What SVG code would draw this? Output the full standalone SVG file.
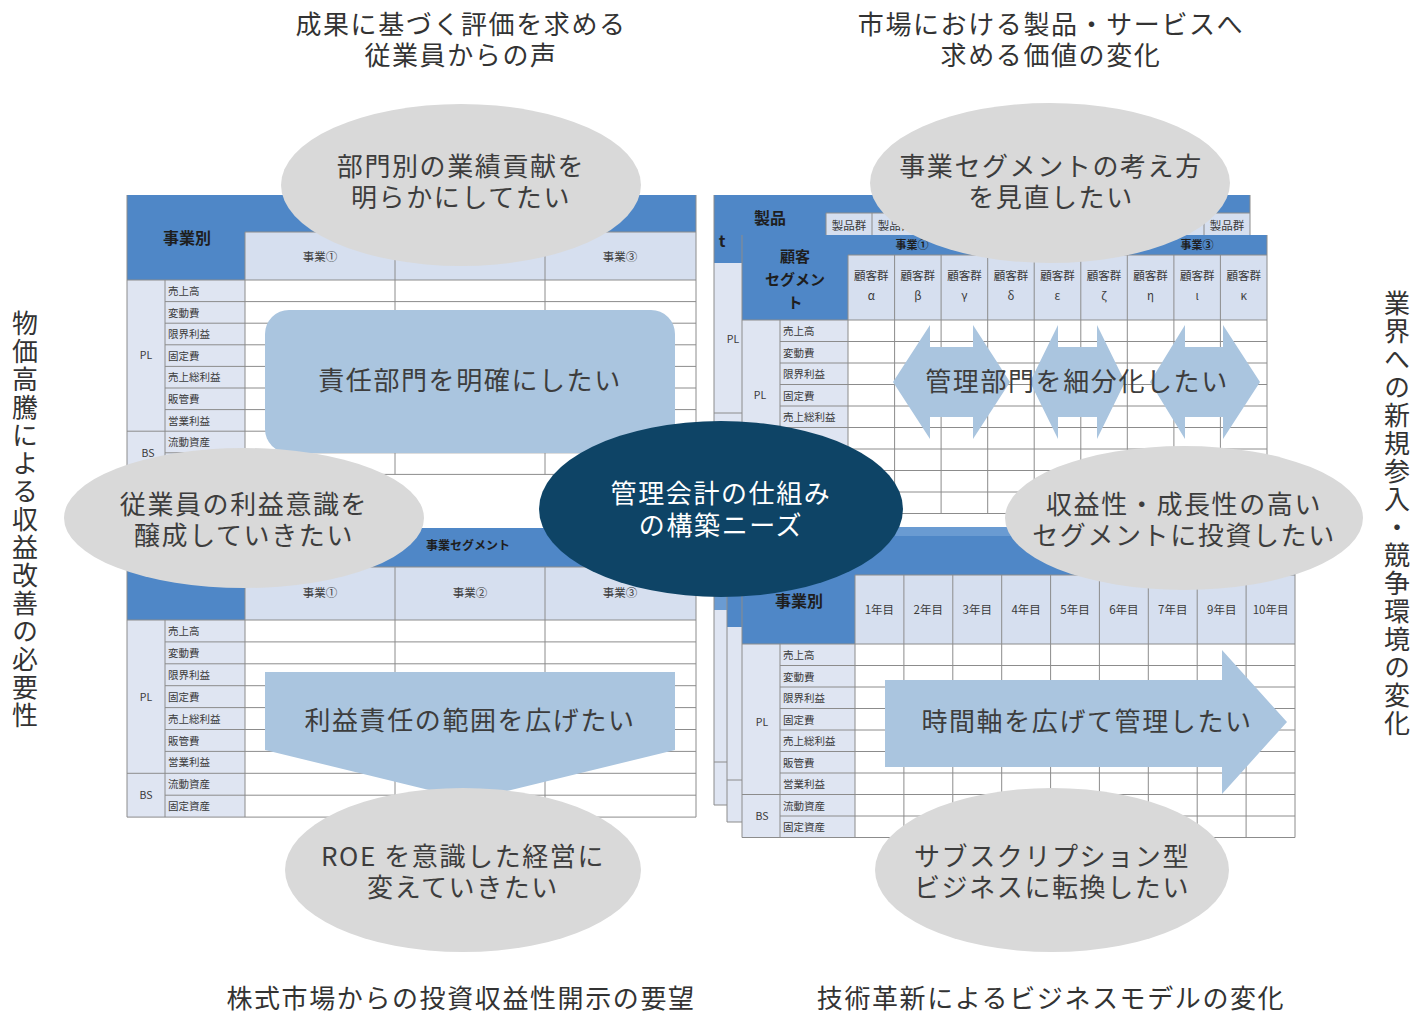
<svg xmlns="http://www.w3.org/2000/svg" width="1415" height="1016" viewBox="0 0 1415 1016">
<style>
text{font-family:"Noto Sans CJK JP","Noto Sans",sans-serif}
.hd{fill:#4f87c7}
.hd2{fill:#6a9bd2}
.sh{fill:#d6dfef}
.lb{fill:#dfe5f2}
.wt{fill:#fff}
.ln{stroke:#8c8c8c;stroke-width:1;fill:none}
.it{font-size:10.5px;fill:#3a3a3a}
.ch{font-size:11.5px;fill:#3a3a3a;text-anchor:middle}
.bh{font-weight:bold;fill:#1e1e1e;text-anchor:middle}
.gy{fill:#d9d9d9}
.lbs{fill:#aac5df}
.big{font-size:26px;fill:#3d3d3d;text-anchor:middle;letter-spacing:1.6px}
.cap{font-size:26px;fill:#333;text-anchor:middle;letter-spacing:1.6px}
.wtx{font-size:26px;fill:#fff;text-anchor:middle;letter-spacing:1.6px}
.vt{font-size:26px;fill:#333;writing-mode:vertical-rl;letter-spacing:2px}
</style>
<rect width="1415" height="1016" fill="#fff"/>

<!-- captions -->
<g id="captions">
<text class="cap" x="461" y="34">成果に基づく評価を求める</text>
<text class="cap" x="461" y="65">従業員からの声</text>
<text class="cap" x="1051" y="34">市場における製品・サービスへ</text>
<text class="cap" x="1051" y="65">求める価値の変化</text>
<text class="cap" x="461" y="1008">株式市場からの投資収益性開示の要望</text>
<text class="cap" x="1051" y="1008">技術革新によるビジネスモデルの変化</text>
<text class="vt" x="25" y="310">物価高騰による収益改善の必要性</text>
<text class="vt" x="1397" y="290">業界への新規参入・競争環境の変化</text>
</g>

<!-- table 1: top-left -->
<g id="table-business-top">
<rect x="127" y="195" width="569" height="279.4" class="wt"/>
<rect x="127" y="195" width="569" height="37" class="hd"/>
<rect x="127" y="195" width="118" height="85" class="hd"/>
<rect x="245" y="232" width="451" height="48" class="sh"/>
<rect x="127" y="280" width="118" height="194.4" class="lb"/>
<path class="ln" d="M127 195V474.4M696 195V474.4M245 232V474.4M395 232V474.4M545 232V474.4M165 280V474.4M245 232H696M127 280H696M165 301.6H696M165 323.2H696M165 344.8H696M165 366.4H696M165 388H696M165 409.6H696M127 431.2H696M165 452.8H696M127 474.4H696"/>
<text class="bh" x="187" y="244" font-size="16">事業別</text>
<text class="ch" x="320" y="261">事業①</text>
<text class="ch" x="620" y="261">事業③</text>
<text class="it" x="146" y="359" font-size="10" text-anchor="middle">PL</text>
<text class="it" x="148" y="457" font-size="10" text-anchor="middle">BS</text>
<text class="it" x="168" y="295">売上高</text>
<text class="it" x="168" y="316.6">変動費</text>
<text class="it" x="168" y="338.2">限界利益</text>
<text class="it" x="168" y="359.8">固定費</text>
<text class="it" x="168" y="381.4">売上総利益</text>
<text class="it" x="168" y="403">販管費</text>
<text class="it" x="168" y="424.6">営業利益</text>
<text class="it" x="168" y="446.2">流動資産</text>
</g>

<!-- table 2: bottom-left -->
<g id="table-business-bottom">
<rect x="127" y="528" width="569" height="289.1" class="wt"/>
<rect x="127" y="528" width="569" height="39" class="hd"/>
<rect x="127" y="528" width="118" height="92" class="hd"/>
<rect x="245" y="567" width="451" height="53" class="sh"/>
<rect x="127" y="620" width="118" height="197.1" class="lb"/>
<path class="ln" d="M127 528V817.1M696 528V817.1M245 567V817.1M395 567V817.1M545 567V817.1M165 620V817.1M245 567H696M127 620H696M165 641.9H696M165 663.8H696M165 685.7H696M165 707.6H696M165 729.5H696M165 751.4H696M127 773.3H696M165 795.2H696M127 817.1H696"/>
<text class="bh" x="468" y="550" font-size="12">事業セグメント</text>
<text class="ch" x="320" y="597">事業①</text>
<text class="ch" x="470" y="597">事業②</text>
<text class="ch" x="620" y="597">事業③</text>
<text class="it" x="146" y="701" font-size="10" text-anchor="middle">PL</text>
<text class="it" x="146" y="799" font-size="10" text-anchor="middle">BS</text>
<text class="it" x="168" y="635">売上高</text>
<text class="it" x="168" y="656.9">変動費</text>
<text class="it" x="168" y="678.8">限界利益</text>
<text class="it" x="168" y="700.7">固定費</text>
<text class="it" x="168" y="722.6">売上総利益</text>
<text class="it" x="168" y="744.5">販管費</text>
<text class="it" x="168" y="766.4">営業利益</text>
<text class="it" x="168" y="788.3">流動資産</text>
<text class="it" x="168" y="810.2">固定資産</text>
</g>

<!-- table 3 back: product -->
<g id="table-product">
<rect x="714" y="195" width="536" height="275" class="wt"/>
<rect x="714" y="195" width="536" height="18" class="hd"/>
<rect x="714" y="195" width="112" height="68" class="hd"/>
<rect x="826" y="213" width="424" height="22" class="sh"/>
<rect x="714" y="263" width="28" height="207" class="lb"/>
<path class="ln" d="M714 195V470M1250 195V470M826 213V235M872 213V235M919 213V235M1204 213V235M826 213H1250M714 413H742M714 470H742"/>
<text class="bh" x="770" y="224" font-size="16">製品</text>
<text class="bh" x="722" y="247" font-size="16">t</text>
<text class="ch" x="849" y="230">製品群</text>
<text class="ch" x="895" y="230">製品群</text>
<text class="ch" x="1227" y="230">製品群</text>
<text class="it" x="733" y="343" font-size="10" text-anchor="middle">PL</text>
</g>

<!-- table 3 front: customer segment -->
<g id="table-customer">
<rect x="742" y="235" width="525" height="278.5" class="wt"/>
<rect x="742" y="235" width="525" height="20" class="hd"/>
<rect x="742" y="235" width="106" height="85" class="hd"/>
<rect x="848" y="255" width="419" height="65" class="sh"/>
<rect x="742" y="320" width="106" height="193.5" class="lb"/>
<path class="ln" d="M742 235V513.5M1267 235V513.5M780 320V513.5M848 255V513.5M894.6 255V513.5M941.1 255V513.5M987.7 255V513.5M1034.2 255V513.5M1080.8 255V513.5M1127.3 255V513.5M1173.9 255V513.5M1220.4 255V513.5M848 255H1267M742 320H1267M780 341.5H1267M780 363H1267M780 384.5H1267M780 406H1267M780 427.5H1267M780 449H1267M742 470.5H1267M780 492H1267M742 513.5H1267"/>
<text class="bh" x="912" y="249" font-size="11">事業①</text>
<text class="bh" x="1197" y="249" font-size="11">事業③</text>
<text class="bh" x="795" y="262" font-size="15">顧客</text>
<text class="bh" x="795" y="285" font-size="15">セグメン</text>
<text class="bh" x="795" y="308" font-size="15">ト</text>
<text class="ch" x="871.3" y="280">顧客群</text><text class="ch" x="871.3" y="300">α</text>
<text class="ch" x="917.8" y="280">顧客群</text><text class="ch" x="917.8" y="300">β</text>
<text class="ch" x="964.4" y="280">顧客群</text><text class="ch" x="964.4" y="300">γ</text>
<text class="ch" x="1011" y="280">顧客群</text><text class="ch" x="1011" y="300">δ</text>
<text class="ch" x="1057.5" y="280">顧客群</text><text class="ch" x="1057.5" y="300">ε</text>
<text class="ch" x="1104" y="280">顧客群</text><text class="ch" x="1104" y="300">ζ</text>
<text class="ch" x="1150.6" y="280">顧客群</text><text class="ch" x="1150.6" y="300">η</text>
<text class="ch" x="1197.2" y="280">顧客群</text><text class="ch" x="1197.2" y="300">ι</text>
<text class="ch" x="1243.7" y="280">顧客群</text><text class="ch" x="1243.7" y="300">κ</text>
<text class="it" x="760" y="399" font-size="10" text-anchor="middle">PL</text>
<text class="it" x="783" y="335">売上高</text>
<text class="it" x="783" y="356.5">変動費</text>
<text class="it" x="783" y="378">限界利益</text>
<text class="it" x="783" y="399.5">固定費</text>
<text class="it" x="783" y="421">売上総利益</text>
</g>

<!-- table 4: yearly stack -->
<g id="table-yearly">
<rect x="714" y="527" width="540" height="278" class="wt"/>
<rect x="714" y="527" width="540" height="83" class="hd2"/>
<rect x="714" y="610" width="13" height="195" class="lb"/>
<path class="ln" d="M714 527V805H1254M714 762H727"/>
<rect x="727" y="536" width="550" height="286" class="wt"/>
<rect x="727" y="536" width="550" height="91" class="hd"/>
<rect x="727" y="627" width="15" height="195" class="lb"/>
<path class="ln" d="M727 536V822H1277M727 780H742"/>
<rect x="742" y="545" width="553" height="292.5" class="wt"/>
<rect x="742" y="545" width="553" height="30" class="hd"/>
<rect x="742" y="545" width="113" height="99" class="hd"/>
<rect x="855" y="575" width="440" height="69" class="sh"/>
<rect x="742" y="644" width="113" height="193.5" class="lb"/>
<path class="ln" d="M742 545V837.5M1295 545V837.5M780 644V837.5M855 575V837.5M903.9 575V837.5M952.8 575V837.5M1001.7 575V837.5M1050.6 575V837.5M1099.4 575V837.5M1148.3 575V837.5M1197.2 575V837.5M1246.1 575V837.5M855 575H1295M742 644H1295M780 665.5H1295M780 687H1295M780 708.5H1295M780 730H1295M780 751.5H1295M780 773H1295M742 794.5H1295M780 816H1295M742 837.5H1295"/>
<text class="bh" x="799" y="607" font-size="16">事業別</text>
<text class="ch" x="879.4" y="614">1年目</text>
<text class="ch" x="928.3" y="614">2年目</text>
<text class="ch" x="977.2" y="614">3年目</text>
<text class="ch" x="1026.1" y="614">4年目</text>
<text class="ch" x="1075" y="614">5年目</text>
<text class="ch" x="1123.9" y="614">6年目</text>
<text class="ch" x="1172.8" y="614">7年目</text>
<text class="ch" x="1221.7" y="614">9年目</text>
<text class="ch" x="1270.6" y="614">10年目</text>
<text class="it" x="762" y="726" font-size="10" text-anchor="middle">PL</text>
<text class="it" x="762" y="820" font-size="10" text-anchor="middle">BS</text>
<text class="it" x="783" y="659">売上高</text>
<text class="it" x="783" y="680.5">変動費</text>
<text class="it" x="783" y="702">限界利益</text>
<text class="it" x="783" y="723.5">固定費</text>
<text class="it" x="783" y="745">売上総利益</text>
<text class="it" x="783" y="766.5">販管費</text>
<text class="it" x="783" y="788">営業利益</text>
<text class="it" x="783" y="809.5">流動資産</text>
<text class="it" x="783" y="831">固定資産</text>
</g>

<!-- light blue shapes -->
<g id="shape-responsibility">
<rect x="265" y="310" width="410" height="143" rx="24" class="lbs"/>
<text class="big" x="470" y="390">責任部門を明確にしたい</text>
</g>
<g id="shape-profit-scope">
<path class="lbs" d="M265 672H675V750L470 800L265 750Z"/>
<text class="big" x="470" y="730">利益責任の範囲を広げたい</text>
</g>
<g id="shape-subdivide">
<path class="lbs" d="M893 382L930 325V347H973V325L1010 382L973 439V417H930V439Z"/>
<path class="lbs" d="M1030 382L1058 325V347H1097V325L1125 382L1097 439V417H1058V439Z"/>
<path class="lbs" d="M1150 382L1185 325V347H1223V325L1260 382L1223 439V417H1185V439Z"/>
<text class="big" x="1077" y="391">管理部門を細分化したい</text>
</g>
<g id="shape-timeaxis">
<path class="lbs" d="M885 680H1222V650L1287 722L1222 794V767H885Z"/>
<text class="big" x="1087" y="731">時間軸を広げて管理したい</text>
</g>

<!-- gray ellipses -->
<g id="need-dept-contribution">
<ellipse cx="461" cy="185" rx="180" ry="81" class="gy"/>
<text class="big" x="461" y="176">部門別の業績貢献を</text>
<text class="big" x="461" y="207">明らかにしてたい</text>
</g>
<g id="need-segment-review">
<ellipse cx="1050" cy="183" rx="180" ry="80" class="gy"/>
<text class="big" x="1051" y="176">事業セグメントの考え方</text>
<text class="big" x="1051" y="207">を見直したい</text>
</g>
<g id="need-employee-awareness">
<ellipse cx="244" cy="518" rx="180" ry="70" class="gy"/>
<text class="big" x="244" y="514">従業員の利益意識を</text>
<text class="big" x="244" y="545">醸成していきたい</text>
</g>
<g id="need-invest-segment">
<ellipse cx="1184" cy="518" rx="179" ry="72" class="gy"/>
<text class="big" x="1184" y="514">収益性・成長性の高い</text>
<text class="big" x="1184" y="545">セグメントに投資したい</text>
</g>
<g id="need-roe">
<ellipse cx="463" cy="870" rx="178" ry="82" class="gy"/>
<text class="big" x="463" y="866">ROE を意識した経営に</text>
<text class="big" x="463" y="897">変えていきたい</text>
</g>
<g id="need-subscription">
<ellipse cx="1052" cy="870" rx="177" ry="82" class="gy"/>
<text class="big" x="1052" y="866">サブスクリプション型</text>
<text class="big" x="1052" y="897">ビジネスに転換したい</text>
</g>

<!-- center -->
<g id="core-need">
<ellipse cx="721" cy="509" rx="182" ry="88" fill="#0e4466"/>
<text class="wtx" x="721" y="503">管理会計の仕組み</text>
<text class="wtx" x="721" y="535">の構築ニーズ</text>
</g>
</svg>
